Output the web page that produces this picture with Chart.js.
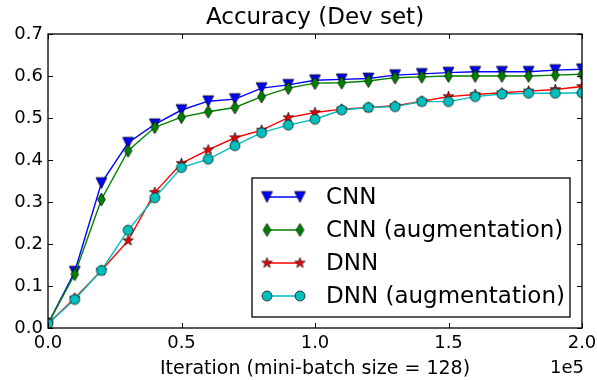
<!DOCTYPE html>
<html>
<head>
<meta charset="utf-8">
<script src="https://cdn.jsdelivr.net/npm/chart.js@4"></script>
<style>
  html, body { margin: 0; padding: 0; background: #fff; }
</style>
</head>
<body>
<canvas id="acc" width="597" height="380"></canvas>
<script>
// accuracy on dev set, by training iteration
const iterations = [0, 10000, 20000, 30000, 40000, 50000, 60000, 70000, 80000, 90000, 100000,
  110000, 120000, 130000, 140000, 150000, 160000, 170000, 180000, 190000, 200000];

const cnn = [0.01, 0.134, 0.345, 0.441, 0.485, 0.519, 0.540, 0.545, 0.571, 0.579, 0.590,
  0.592, 0.594, 0.602, 0.605, 0.608, 0.610, 0.610, 0.610, 0.614, 0.616];
const cnnAug = [0.01, 0.128, 0.306, 0.422, 0.478, 0.502, 0.515, 0.525, 0.551, 0.571, 0.583,
  0.584, 0.588, 0.596, 0.598, 0.600, 0.600, 0.600, 0.600, 0.602, 0.604];
const dnn = [0.01, 0.071, 0.137, 0.208, 0.323, 0.392, 0.424, 0.453, 0.471, 0.501, 0.513,
  0.521, 0.525, 0.529, 0.540, 0.551, 0.556, 0.560, 0.564, 0.568, 0.575];
const dnnAug = [0.01, 0.068, 0.137, 0.233, 0.310, 0.382, 0.402, 0.434, 0.465, 0.483, 0.497,
  0.519, 0.525, 0.527, 0.539, 0.539, 0.551, 0.557, 0.559, 0.559, 0.560];

const seriesNames = ["CNN", "CNN (augmentation)", "DNN", "DNN (augmentation)"];
const yTicks = [0, 0.1, 0.2, 0.3, 0.4, 0.5, 0.6, 0.7];
const xTicks = [0, 50000, 100000, 150000, 200000];

const FONT = "'DejaVu Sans', sans-serif";

// marker images, matplotlib-like shapes
function marker(shape, color, size) {
  const s = Math.ceil(size + 4);
  const c = document.createElement("canvas");
  c.width = s;
  c.height = s;
  const g = c.getContext("2d");
  const m = s / 2, r = size / 2;
  g.beginPath();
  if (shape === "tri") {
    g.moveTo(m - r, m - r);
    g.lineTo(m + r, m - r);
    g.lineTo(m, m + r);
    g.closePath();
  } else if (shape === "diamond") {
    g.moveTo(m, m - r);
    g.lineTo(m + 0.6 * r, m);
    g.lineTo(m, m + r);
    g.lineTo(m - 0.6 * r, m);
    g.closePath();
  } else if (shape === "star") {
    const ri = r * 0.382;
    for (let k = 0; k < 10; k++) {
      const a = -Math.PI / 2 + k * Math.PI / 5;
      const rr = k % 2 ? ri : r;
      const px = m + rr * Math.cos(a), py = m + rr * Math.sin(a);
      if (k === 0) g.moveTo(px, py); else g.lineTo(px, py);
    }
    g.closePath();
  } else {
    g.arc(m, m, r, 0, Math.PI * 2);
  }
  g.fillStyle = color;
  g.fill();
  g.lineWidth = 0.7;
  g.strokeStyle = "#000";
  g.stroke();
  return c;
}

const colors = ["#0000ff", "#008000", "#ff0000", "#00bfbf"];
const markers = [
  marker("tri", colors[0], 11),
  marker("diamond", colors[1], 13),
  marker("star", colors[2], 11),
  marker("circle", colors[3], 10),
];
const values = [cnn, cnnAug, dnn, dnnAug];

const datasets = values.map((vals, i) => ({
  label: seriesNames[i],
  data: vals.map((v, k) => ({ x: iterations[k], y: v })),
  borderColor: colors[i],
  backgroundColor: colors[i],
  borderWidth: 1.4,
  pointStyle: markers[i],
  pointRadius: 5,
  pointHoverRadius: 5,
  tension: 0,
  clip: 0,
  order: 3 - i,
}));

// frame, inward ticks, title, offset text and legend box
const decor = {
  id: "decor",
  afterDraw(chart) {
    const ctx = chart.ctx;
    const a = chart.chartArea;
    const xs = chart.scales.x, ys = chart.scales.y;
    ctx.save();
    ctx.strokeStyle = "#000";
    ctx.lineWidth = 1.3;
    ctx.strokeRect(a.left, a.top, a.right - a.left, a.bottom - a.top);
    ctx.lineWidth = 1;
    ctx.beginPath();
    xTicks.forEach((t) => {
      const px = Math.round(xs.getPixelForValue(t)) + 0.5;
      ctx.moveTo(px, a.bottom); ctx.lineTo(px, a.bottom - 5);
      ctx.moveTo(px, a.top); ctx.lineTo(px, a.top + 5);
    });
    yTicks.forEach((t) => {
      const py = Math.round(ys.getPixelForValue(t)) + 0.5;
      ctx.moveTo(a.left, py); ctx.lineTo(a.left + 5, py);
      ctx.moveTo(a.right, py); ctx.lineTo(a.right - 5, py);
    });
    ctx.stroke();

    ctx.fillStyle = "#000";
    ctx.textBaseline = "middle";
    ctx.textAlign = "center";
    ctx.font = "23px " + FONT;
    ctx.fillText("Accuracy (Dev set)", (a.left + a.right) / 2, 18);
    ctx.textAlign = "right";
    ctx.font = "18px " + FONT;
    ctx.fillText("1e5", a.right + 2, 368);

    // legend
    const lw = 318, lh = 139;
    const lx = a.right - 12 - lw, ly = a.bottom - 11 - lh;
    ctx.fillStyle = "#fff";
    ctx.fillRect(lx, ly, lw, lh);
    ctx.lineWidth = 1.3;
    ctx.strokeRect(lx, ly, lw, lh);
    ctx.font = "23px " + FONT;
    ctx.textAlign = "left";
    seriesNames.forEach((name, i) => {
      const y = ly + 19 + i * 33;
      ctx.strokeStyle = colors[i];
      ctx.lineWidth = 1.4;
      ctx.beginPath();
      ctx.moveTo(lx + 15, y);
      ctx.lineTo(lx + 48, y);
      ctx.stroke();
      const mk = markers[i];
      ctx.drawImage(mk, lx + 15 - mk.width / 2, y - mk.height / 2);
      ctx.drawImage(mk, lx + 48 - mk.width / 2, y - mk.height / 2);
      ctx.fillStyle = "#000";
      ctx.fillText(name, lx + 74, y + 1);
    });
    ctx.restore();
  },
};

new Chart(document.getElementById("acc"), {
  type: "line",
  data: { datasets: datasets },
  options: {
    responsive: false,
    animation: false,
    devicePixelRatio: 1,
    layout: { padding: { top: 34, right: 15, left: 0, bottom: 0 } },
    plugins: {
      legend: { display: false },
      title: { display: false },
      tooltip: { enabled: false },
    },
    scales: {
      x: {
        type: "linear",
        min: 0,
        max: 200000,
        afterFit: (s) => {
          s.height = 52;
          s.paddingLeft = 0;
          s.paddingRight = 0;
        },
        afterBuildTicks: (s) => { s.ticks = xTicks.map((v) => ({ value: v })); },
        grid: { display: false, drawTicks: false },
        border: { display: false },
        ticks: {
          padding: 5,
          color: "#000",
          font: { family: FONT, size: 18 },
          maxRotation: 0,
          callback: (v) => (v / 100000).toFixed(1),
        },
        title: {
          display: true,
          text: "Iteration (mini-batch size = 128)",
          color: "#000",
          font: { family: FONT, size: 19 },
          padding: { top: 0, bottom: 0 },
        },
      },
      y: {
        min: 0,
        max: 0.7,
        afterFit: (s) => {
          s.width = 48;
          s.paddingTop = 0;
          s.paddingBottom = 0;
        },
        afterBuildTicks: (s) => { s.ticks = yTicks.map((v) => ({ value: v })); },
        grid: { display: false, drawTicks: false },
        border: { display: false },
        ticks: {
          padding: 5,
          color: "#000",
          font: { family: FONT, size: 18 },
          callback: (v) => v.toFixed(1),
        },
      },
    },
  },
  plugins: [decor],
});
</script>
</body>
</html>
